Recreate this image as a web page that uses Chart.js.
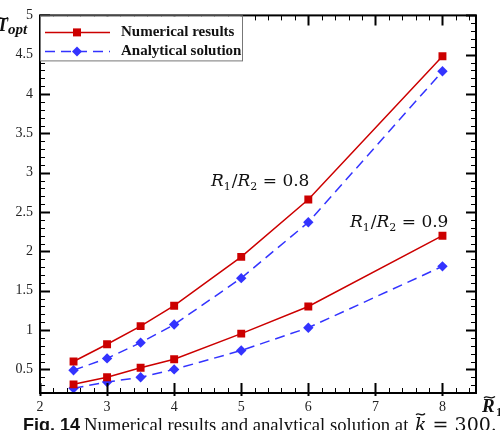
<!DOCTYPE html>
<html lang="en">
<head>
<meta charset="UTF-8">
<title>Numerical results and analytical solution</title>
<script src="https://cdn.jsdelivr.net/npm/chart.js@4.4.1/dist/chart.umd.min.js"></script>
<style>
    html, body { margin: 0; padding: 0; background: #ffffff; }
    #box { position: relative; width: 500px; height: 430px; overflow: hidden; }
</style>
</head>
<body>
<div id="box">
    <canvas id="grafico" width="500" height="430"></canvas>
</div>

<script>
    // valores
    const xValores = [2.5, 3, 3.5, 4, 5, 6, 8]
    const numerico08 = [0.60, 0.82, 1.05, 1.31, 1.93, 2.66, 4.48]
    const analitico08 = [0.49, 0.64, 0.84, 1.07, 1.66, 2.37, 4.29]
    const numerico09 = [0.31, 0.40, 0.52, 0.63, 0.955, 1.30, 2.20]
    const analitico09 = [0.26, 0.34, 0.40, 0.50, 0.74, 1.03, 1.81]

    const xTicks = [2, 3, 4, 5, 6, 7, 8]
    const yTicks = [0.5, 1, 1.5, 2, 2.5, 3, 3.5, 4, 4.5, 5]

    const legendas = ['Numerical results', 'Analytical solution']
    const rotulo08 = '0.8'
    const rotulo09 = '0.9'
    const legendaFig = 'Fig. 14'
    const textoFig = 'Numerical results and analytical solution at '

    const vermelho = '#cc0000'
    const azul = '#3333ff'

    function pontos(ys) {
        return xValores.map((x, i) => ({ x: x, y: ys[i] }))
    }

    function serieNum(ys) {
        return {
            data: pontos(ys),
            borderColor: vermelho,
            backgroundColor: vermelho,
            borderWidth: 1.5,
            pointStyle: 'rect',
            pointRadius: 5.6,
            pointBorderWidth: 0,
            showLine: true
        }
    }

    function serieAna(ys) {
        return {
            data: pontos(ys),
            borderColor: azul,
            backgroundColor: azul,
            borderWidth: 1.5,
            borderDash: [10, 6],
            pointStyle: 'rectRot',
            pointRadius: 5.2,
            pointBorderWidth: 0,
            showLine: true
        }
    }

    // desenha R1/R2 = valor com subscritos
    function razao(ctx, x, y, valor) {
        ctx.save()
        ctx.fillStyle = '#111'
        ctx.textBaseline = 'alphabetic'
        ctx.textAlign = 'left'
        const big = 'italic 17px "DejaVu Serif"'
        const sub = '11px "DejaVu Serif"'
        const norm = '17px "DejaVu Serif"'
        ctx.font = big; ctx.fillText('R', x, y); x += ctx.measureText('R').width
        ctx.font = sub; ctx.fillText('1', x, y + 4); x += ctx.measureText('1').width + 1
        ctx.font = norm; ctx.fillText('/', x, y); x += ctx.measureText('/').width
        ctx.font = big; ctx.fillText('R', x, y); x += ctx.measureText('R').width
        ctx.font = sub; ctx.fillText('2', x, y + 4); x += ctx.measureText('2').width
        ctx.font = norm; ctx.fillText(' = ' + valor, x, y)
        ctx.restore()
    }

    function til(ctx, x, y, w) {
        ctx.save()
        ctx.beginPath()
        ctx.lineWidth = 1.2
        ctx.strokeStyle = '#111'
        ctx.moveTo(x, y + 1)
        ctx.bezierCurveTo(x + w * 0.3, y - 2.5, x + w * 0.6, y + 3.5, x + w, y - 0.5)
        ctx.stroke()
        ctx.restore()
    }

    const moldura = {
        id: 'moldura',
        afterDatasetsDraw(chart) {
            const ctx = chart.ctx
            const a = chart.chartArea
            const sx = chart.scales.x
            const sy = chart.scales.y

            ctx.save()
            // ticks internos
            ctx.strokeStyle = '#000'
            for (let v = 2; v <= 8.501; v += 0.2) {
                const major = Math.abs(v - Math.round(v)) < 0.01
                const px = Math.round(sx.getPixelForValue(v)) + 0.5
                const len = major ? 10 : 5
                ctx.lineWidth = major ? 2 : 1
                ctx.beginPath()
                ctx.moveTo(px, a.bottom + (major ? 3 : 0)); ctx.lineTo(px, a.bottom - len)
                ctx.moveTo(px, a.top); ctx.lineTo(px, a.top + len)
                ctx.stroke()
            }
            for (let v = 0.3; v <= 5.001; v += 0.1) {
                const major = Math.abs(v * 2 - Math.round(v * 2)) < 0.01
                const py = Math.round(sy.getPixelForValue(v)) + 0.5
                const len = major ? 10 : 5
                ctx.lineWidth = major ? 2 : 1
                ctx.beginPath()
                ctx.moveTo(a.left, py); ctx.lineTo(a.left + len, py)
                ctx.moveTo(a.right, py); ctx.lineTo(a.right - len, py)
                ctx.stroke()
            }
            ctx.lineWidth = 2
            ctx.strokeRect(a.left, a.top, a.right - a.left, a.bottom - a.top)

            // legenda
            const lx = a.left, ly = a.top
            ctx.fillStyle = '#fff'
            ctx.fillRect(lx + 1, ly + 1, 201, 45)
            ctx.lineWidth = 1
            ctx.strokeStyle = '#777'
            ctx.strokeRect(lx + 0.5, ly + 0.5, 202, 45)

            ctx.lineWidth = 1.5
            ctx.strokeStyle = vermelho
            ctx.beginPath(); ctx.moveTo(lx + 5, ly + 17); ctx.lineTo(lx + 70, ly + 17); ctx.stroke()
            ctx.fillStyle = vermelho
            ctx.fillRect(lx + 33, ly + 13, 8, 8)

            ctx.strokeStyle = azul
            ctx.setLineDash([10, 6])
            ctx.beginPath(); ctx.moveTo(lx + 5, ly + 36); ctx.lineTo(lx + 70, ly + 36); ctx.stroke()
            ctx.setLineDash([])
            ctx.fillStyle = azul
            ctx.beginPath()
            ctx.moveTo(lx + 37, ly + 31); ctx.lineTo(lx + 42, ly + 36)
            ctx.lineTo(lx + 37, ly + 41); ctx.lineTo(lx + 32, ly + 36)
            ctx.closePath(); ctx.fill()

            ctx.fillStyle = '#111'
            ctx.font = 'bold 15px "Liberation Serif"'
            ctx.textBaseline = 'middle'
            ctx.fillText(legendas[0], lx + 81, ly + 17)
            ctx.fillText(legendas[1], lx + 81, ly + 36)

            // rotulos das curvas
            razao(ctx, 211, 186, rotulo08)
            razao(ctx, 350, 227, rotulo09)

            // titulo eixo y
            ctx.fillStyle = '#111'
            ctx.textBaseline = 'alphabetic'
            ctx.font = 'bold italic 18px "Liberation Serif"'
            ctx.fillText('T', -3, 31)
            til(ctx, -2, 18, 10)
            ctx.font = 'bold italic 15px "Liberation Serif"'
            ctx.fillText('opt', 8, 34)

            // titulo eixo x
            ctx.font = 'bold italic 19px "Liberation Serif"'
            ctx.fillText('R', 482, 412)
            til(ctx, 484, 397, 11)
            ctx.font = 'bold 13px "Liberation Serif"'
            ctx.fillText('1', 496, 416)

            // legenda da figura
            ctx.font = 'bold 18px "Liberation Sans"'
            ctx.fillText(legendaFig, 23, 431)
            let cx = 23 + ctx.measureText(legendaFig).width + 4
            ctx.font = '18.7px "Liberation Serif"'
            ctx.fillText(textoFig, cx, 431)
            cx += ctx.measureText(textoFig).width + 2
            ctx.font = 'italic 19px "DejaVu Serif"'
            ctx.fillText('k', cx, 431)
            til(ctx, cx + 1, 414, 9)
            cx += ctx.measureText('k').width
            ctx.font = '19px "DejaVu Serif"'
            ctx.fillText(' = 300.', cx, 431)
            ctx.restore()
        }
    }

    const config = {
        type: 'scatter',
        data: {
            datasets: [
                serieNum(numerico08),
                serieAna(analitico08),
                serieNum(numerico09),
                serieAna(analitico09)
            ]
        },
        options: {
            responsive: false,
            animation: false,
            layout: { padding: { top: 12, right: 24, left: 0, bottom: 0 } },
            plugins: {
                legend: { display: false },
                tooltip: { enabled: false }
            },
            scales: {
                x: {
                    type: 'linear',
                    min: 2,
                    max: 8.5,
                    afterBuildTicks: (s) => { s.ticks = xTicks.map(v => ({ value: v })) },
                    afterFit: (s) => { s.height = 37 },
                    grid: { display: false, drawTicks: false },
                    border: { display: false },
                    ticks: {
                        padding: 6,
                        color: '#222',
                        maxRotation: 0,
                        callback: (v) => String(v),
                        font: { family: 'Liberation Serif', size: 14 }
                    }
                },
                y: {
                    type: 'linear',
                    min: 0.2,
                    max: 5,
                    afterBuildTicks: (s) => { s.ticks = yTicks.map(v => ({ value: v })) },
                    afterFit: (s) => { s.width = 40 },
                    grid: { display: false, drawTicks: false },
                    border: { display: false },
                    ticks: {
                        padding: 7,
                        color: '#222',
                        callback: (v) => String(v),
                        font: { family: 'Liberation Serif', size: 14 }
                    }
                }
            }
        },
        plugins: [moldura]
    }

    const grafico = new Chart(document.getElementById('grafico'), config)
</script>
</body>
</html>
